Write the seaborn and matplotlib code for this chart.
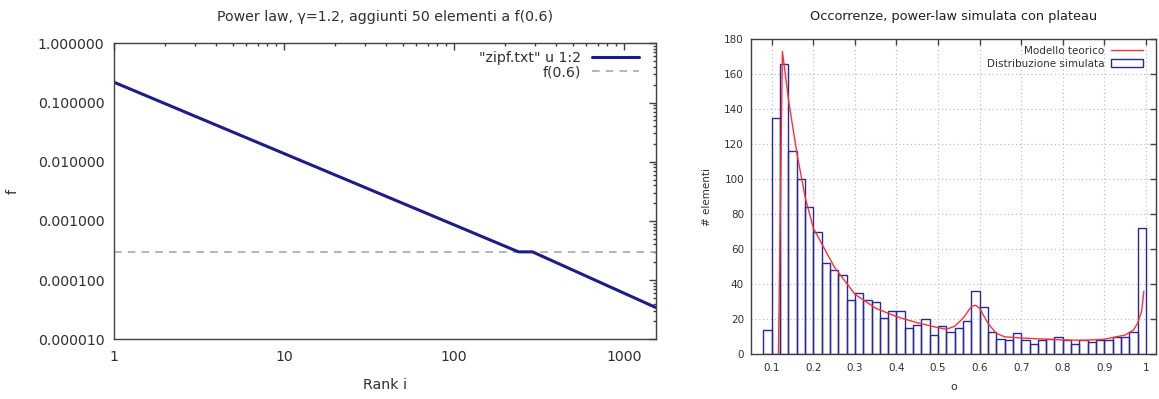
import numpy as np
import pandas as pd
import matplotlib
matplotlib.use("Agg")
import matplotlib.pyplot as plt
import seaborn as sns
from matplotlib.ticker import FuncFormatter, LogLocator, FixedLocator, NullFormatter
from matplotlib.lines import Line2D
from matplotlib.patches import Patch

# ---------------- data ----------------
# left panel: rank-frequency (vertices of the log-log polyline)
rank_i = [1, 240, 290, 1540]
freq_f = [0.22, 3.0e-4, 3.0e-4, 3.45e-5]
plateau_f = 3.0e-4
left_xlim = [1, 1540]

# right panel: histogram counts, bins of width 0.02 from 0.08 to 1.00
bin_edges = [round(0.08 + 0.02 * k, 2) for k in range(47)]
counts = [14, 135, 166, 116, 100, 84, 70, 52, 48, 45,
          31, 35, 31, 30, 21, 25, 25, 15, 17, 20,
          11, 16, 13, 15, 19, 36, 27, 13, 9, 8,
          12, 8, 6, 8, 9, 10, 8, 6, 8, 7,
          8, 8, 10, 10, 13, 72]
model_x = [0.116, 0.1255, 0.141, 0.161, 0.18, 0.2, 0.25, 0.3, 0.35, 0.4,
           0.45, 0.5, 0.52, 0.54, 0.56, 0.58, 0.59, 0.60, 0.62, 0.64,
           0.66, 0.7, 0.8, 0.85, 0.9, 0.95, 0.97, 0.98, 0.99, 0.995]
model_y = [0, 173, 144, 114, 90, 72, 50, 34.3, 26.3, 21.5,
           18, 15.2, 14.3, 16, 20.6, 27.2, 28, 26.3, 17.7, 12,
           10, 9.3, 8.2, 8, 8.6, 11, 13.9, 17.7, 25, 36]
x_ticks = [0.1, 0.2, 0.3, 0.4, 0.5, 0.6, 0.7, 0.8, 0.9, 1.0]
x_ticklabels = ["0.1", "0.2", "0.3", "0.4", "0.5", "0.6", "0.7", "0.8", "0.9", "1"]
y_ticks = [0, 20, 40, 60, 80, 100, 120, 140, 160, 180]

# ---------------- style ----------------
sns.set_theme(style="white")
plt.rcParams["font.family"] = ["DejaVu Sans"]
AXC = "#404040"
TXT = "#303030"
HISTC = "#28289a"
REDC = "#ff3030"

fig = plt.figure(figsize=(11.59, 3.99), dpi=100)
ax1 = fig.add_axes([114 / 1159, 1 - 339.3 / 399, (655.7 - 114) / 1159, (339.3 - 43.3) / 399])
ax2 = fig.add_axes([751 / 1159, 1 - 354.3 / 399, (1156.3 - 751) / 1159, (354.3 - 39) / 399])

# ---------------- left panel ----------------
FS1 = 10.2
df_l = pd.DataFrame({"rank": rank_i, "f": freq_f})
sns.lineplot(data=df_l, x="rank", y="f", ax=ax1, color="#1c1c8a", lw=2.2,
             label='"zipf.txt" u 1:2', sort=False)
ax1.axhline(plateau_f, color="#a0a0a0", lw=1.1, ls=(0, (5, 4)), label="f(0.6)", zorder=1)
ax1.set_xscale("log")
ax1.set_yscale("log")
ax1.set_xlim(left_xlim)
ax1.set_ylim(1e-5, 1)
ax1.yaxis.set_major_locator(FixedLocator([1e-5, 1e-4, 1e-3, 1e-2, 1e-1, 1]))
ax1.yaxis.set_major_formatter(FuncFormatter(lambda v, p: f"{v:.6f}"))
ax1.yaxis.set_minor_locator(LogLocator(base=10, subs=np.arange(2, 10)))
ax1.yaxis.set_minor_formatter(NullFormatter())
ax1.xaxis.set_major_locator(FixedLocator([1, 10, 100, 1000]))
ax1.xaxis.set_major_formatter(FuncFormatter(lambda v, p: f"{int(round(v))}"))
ax1.xaxis.set_minor_locator(LogLocator(base=10, subs=np.arange(2, 10)))
ax1.xaxis.set_minor_formatter(NullFormatter())
ax1.tick_params(which="both", direction="in", top=True, right=True, color=AXC, width=1)
ax1.tick_params(which="major", length=5, labelsize=FS1, labelcolor=TXT)
ax1.tick_params(which="minor", length=2.5)
ax1.tick_params(axis="y", which="major", pad=7)
ax1.tick_params(axis="x", which="major", pad=8)
for s in ax1.spines.values():
    s.set_color(AXC)
    s.set_linewidth(1)
ax1.set_title("Power law, γ=1.2, aggiunti 50 elementi a f(0.6)", fontsize=FS1, color=TXT, pad=16)
ax1.set_xlabel("Rank i", fontsize=FS1, color=TXT, labelpad=10)
ax1.set_ylabel("f", fontsize=FS1, color=TXT, labelpad=13)
leg1 = ax1.legend(loc="upper right", frameon=False, markerfirst=False, fontsize=FS1,
                  handlelength=3.3, handletextpad=0.8, labelspacing=0.0,
                  borderpad=0, borderaxespad=0, bbox_to_anchor=(1 - 17 / 541.7, 1 - 8 / 296))
for t in leg1.get_texts():
    t.set_color(TXT)

# ---------------- right panel ----------------
centers = [(bin_edges[k] + bin_edges[k + 1]) / 2 for k in range(len(counts))]
df_h = pd.DataFrame({"o": centers, "n": counts})
sns.histplot(data=df_h, x="o", weights="n", bins=bin_edges, ax=ax2, fill=False,
             element="bars", color=HISTC, linewidth=1.0, alpha=1.0,
             label="Distribuzione simulata", zorder=2)
df_m = pd.DataFrame({"o": model_x, "n": model_y})
sns.lineplot(data=df_m, x="o", y="n", ax=ax2, color=REDC, lw=1.0,
             label="Modello teorico", sort=False, zorder=3)
ax2.set_xlim(0.05, 1.025)
ax2.set_ylim(0, 180)
ax2.set_xticks(x_ticks)
ax2.set_xticklabels(x_ticklabels)
ax2.set_yticks(y_ticks)
ax2.grid(True, color="#b8b8b8", ls=(0, (1, 2.5)), lw=0.8)
ax2.set_axisbelow(True)
ax2.tick_params(which="both", direction="in", top=True, right=True, color=AXC, width=1,
                length=4, labelsize=7.5, labelcolor=TXT)
ax2.tick_params(axis="y", pad=5)
ax2.tick_params(axis="x", pad=6)
for s in ax2.spines.values():
    s.set_color(AXC)
    s.set_linewidth(1)
ax2.set_title("Occorrenze, power-law simulata con plateau", fontsize=9.3, color="#202020", pad=14)
ax2.set_xlabel("o", fontsize=8, color=TXT, labelpad=7)
ax2.set_ylabel("# elementi", fontsize=7.5, color=TXT, labelpad=9)

handles = [Line2D([], [], color=REDC, lw=1.0),
           Patch(facecolor="none", edgecolor=HISTC, lw=1.0)]
leg2 = ax2.legend(handles, ["Modello teorico", "Distribuzione simulata"], loc="upper right",
                  frameon=False, markerfirst=False, fontsize=7.5, handlelength=3.1,
                  handleheight=0.7, handletextpad=0.6, labelspacing=0.25, borderpad=0,
                  borderaxespad=0, bbox_to_anchor=(1 - 13 / 405, 1 - 7 / 315))
for t in leg2.get_texts():
    t.set_color(TXT)

fig.savefig("out.png", dpi=100)
